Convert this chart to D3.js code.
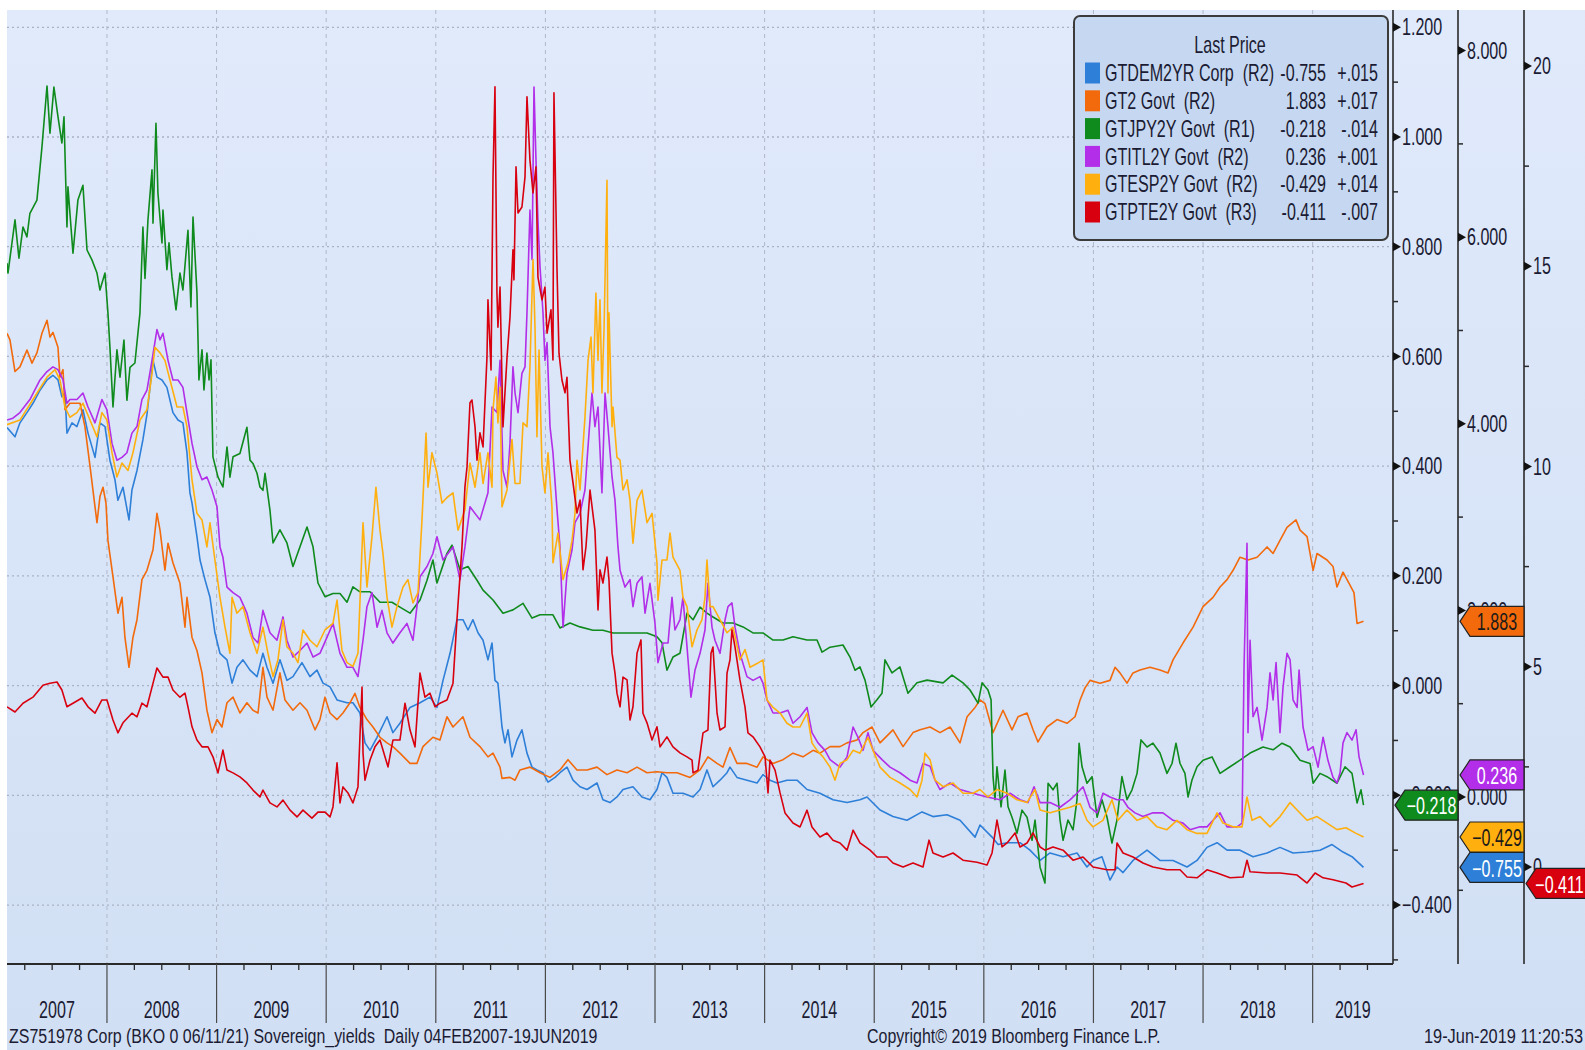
<!DOCTYPE html>
<html><head><meta charset="utf-8">
<script src="https://cdn.jsdelivr.net/npm/d3@7"></script>
<style>
html,body{margin:0;padding:0;background:#fff;}
svg{display:block;}
text{font-family:"Liberation Sans",Arial,sans-serif;}
</style></head>
<body>
<svg id="chart" width="1585" height="1050"></svg>
<script>
// ---------------- DATA (decimal year, value) ----------------
const seriesNames = ["GTDEM2YR Corp","GT2 Govt","GTJPY2Y Govt","GTITL2Y Govt","GTESP2Y Govt","GTPTE2Y Govt"];
const seriesAxes  = ["R2","R2","R1","R2","R2","R3"];
const lastPrices  = ["-0.755","1.883","-0.218","0.236","-0.429","-0.411"];
const changes     = ["+.015","+.017","-.014","+.001","+.014","-.007"];
const yearTicks   = [2007,2008,2009,2010,2011,2012,2013,2014,2015,2016,2017,2018,2019];
const r1Ticks = [-0.4,-0.2,0,0.2,0.4,0.6,0.8,1.0,1.2];
const r2Ticks = [0,2,4,6,8];
const r3Ticks = [0,5,10,15,20];
const footerLeft  = "ZS751978 Corp (BKO 0 06/11/21) Sovereign_yields  Daily 04FEB2007-19JUN2019";
const footerMid   = "Copyright\u00a9 2019 Bloomberg Finance L.P.";
const footerRight = "19-Jun-2019 11:20:53";

const dem = [[2007.088,3.96],[2007.161,3.86],[2007.206,4.01],[2007.270,4.12],[2007.325,4.22],[2007.389,4.36],[2007.453,4.47],[2007.507,4.52],[2007.553,4.47],[2007.589,4.29],[2007.617,4.33],[2007.635,3.90],[2007.681,4.01],[2007.726,3.97],[2007.781,4.15],[2007.827,3.90],[2007.891,3.64],[2007.936,4.01],[2007.982,3.97],[2008.027,3.61],[2008.073,3.40],[2008.100,3.18],[2008.146,3.32],[2008.201,2.97],[2008.228,3.29],[2008.274,3.50],[2008.328,3.83],[2008.365,4.10],[2008.420,4.68],[2008.456,4.50],[2008.502,4.47],[2008.547,4.39],[2008.602,4.12],[2008.648,4.04],[2008.693,4.01],[2008.730,3.69],[2008.757,3.26],[2008.776,3.15],[2008.821,2.79],[2008.849,2.54],[2008.894,2.33],[2008.940,2.14],[2008.985,1.76],[2009.031,1.54],[2009.095,1.47],[2009.141,1.22],[2009.186,1.39],[2009.241,1.47],[2009.305,1.36],[2009.369,1.29],[2009.423,1.54],[2009.460,1.39],[2009.515,1.22],[2009.578,1.47],[2009.642,1.25],[2009.697,1.29],[2009.779,1.44],[2009.852,1.29],[2009.916,1.36],[2009.971,1.22],[2010.035,1.18],[2010.099,1.04],[2010.190,1.01],[2010.244,1.01],[2010.308,0.90],[2010.354,0.58],[2010.400,0.50],[2010.464,0.64],[2010.555,0.86],[2010.609,0.69],[2010.673,0.79],[2010.765,0.96],[2010.856,1.01],[2010.947,1.07],[2011.011,0.96],[2011.066,1.25],[2011.130,1.54],[2011.193,1.90],[2011.248,1.90],[2011.294,1.79],[2011.339,1.90],[2011.385,1.76],[2011.431,1.68],[2011.476,1.47],[2011.513,1.65],[2011.540,1.25],[2011.567,1.22],[2011.604,0.75],[2011.631,0.58],[2011.659,0.72],[2011.695,0.43],[2011.741,0.61],[2011.786,0.72],[2011.832,0.47],[2011.878,0.32],[2011.923,0.29],[2011.978,0.26],[2012.024,0.16],[2012.088,0.21],[2012.133,0.26],[2012.197,0.32],[2012.252,0.18],[2012.316,0.11],[2012.380,0.08],[2012.471,0.15],[2012.525,-0.03],[2012.589,-0.06],[2012.653,0.00],[2012.708,0.08],[2012.799,0.11],[2012.881,0.00],[2012.954,-0.03],[2013.018,0.08],[2013.064,0.26],[2013.109,0.21],[2013.164,0.04],[2013.255,0.04],[2013.347,0.00],[2013.411,0.08],[2013.474,0.29],[2013.529,0.11],[2013.593,0.18],[2013.657,0.26],[2013.684,0.32],[2013.748,0.21],[2013.839,0.18],[2013.931,0.15],[2013.985,0.24],[2014.049,0.18],[2014.113,0.15],[2014.204,0.18],[2014.296,0.18],[2014.387,0.08],[2014.505,0.04],[2014.624,-0.03],[2014.752,-0.06],[2014.870,-0.03],[2014.934,0.00],[2015.053,-0.14],[2015.171,-0.21],[2015.299,-0.25],[2015.436,-0.16],[2015.536,-0.21],[2015.664,-0.19],[2015.783,-0.25],[2015.920,-0.43],[2015.965,-0.30],[2016.075,-0.43],[2016.130,-0.51],[2016.212,-0.49],[2016.330,-0.49],[2016.421,-0.57],[2016.513,-0.68],[2016.604,-0.60],[2016.723,-0.64],[2016.850,-0.60],[2016.941,-0.75],[2016.996,-0.68],[2017.078,-0.64],[2017.151,-0.89],[2017.215,-0.75],[2017.270,-0.81],[2017.361,-0.68],[2017.489,-0.57],[2017.607,-0.68],[2017.726,-0.68],[2017.854,-0.75],[2017.945,-0.68],[2018.036,-0.54],[2018.128,-0.49],[2018.219,-0.57],[2018.337,-0.57],[2018.456,-0.64],[2018.584,-0.60],[2018.702,-0.54],[2018.821,-0.60],[2018.949,-0.59],[2019.067,-0.57],[2019.177,-0.51],[2019.277,-0.59],[2019.359,-0.64],[2019.464,-0.755]];

const ust = [[2007.088,4.97],[2007.115,4.90],[2007.161,4.56],[2007.206,4.61],[2007.270,4.79],[2007.316,4.65],[2007.361,4.76],[2007.407,4.97],[2007.453,5.11],[2007.480,4.93],[2007.507,4.98],[2007.553,4.82],[2007.571,4.50],[2007.599,4.58],[2007.617,4.15],[2007.662,4.22],[2007.754,4.22],[2007.799,3.97],[2007.845,3.55],[2007.891,3.11],[2007.909,2.94],[2007.936,3.22],[2007.964,3.32],[2007.991,3.15],[2008.009,2.75],[2008.055,2.36],[2008.100,1.97],[2008.137,2.14],[2008.164,1.71],[2008.201,1.39],[2008.237,1.71],[2008.274,1.90],[2008.319,2.33],[2008.365,2.43],[2008.420,2.65],[2008.456,3.04],[2008.484,2.86],[2008.529,2.43],[2008.557,2.72],[2008.602,2.51],[2008.666,2.29],[2008.712,1.82],[2008.730,2.14],[2008.776,1.71],[2008.821,1.57],[2008.867,1.33],[2008.912,0.93],[2008.958,0.69],[2009.004,0.83],[2009.049,0.75],[2009.095,1.01],[2009.150,1.07],[2009.213,0.90],[2009.277,1.01],[2009.332,0.93],[2009.378,0.90],[2009.423,1.39],[2009.460,1.07],[2009.515,0.93],[2009.578,1.33],[2009.624,1.04],[2009.697,0.93],[2009.761,1.01],[2009.825,0.93],[2009.898,0.72],[2009.943,0.83],[2009.989,1.07],[2010.035,0.90],[2010.099,0.83],[2010.153,0.90],[2010.217,1.01],[2010.263,1.11],[2010.308,0.96],[2010.372,0.83],[2010.427,0.75],[2010.491,0.64],[2010.555,0.58],[2010.609,0.54],[2010.673,0.47],[2010.765,0.36],[2010.828,0.36],[2010.883,0.54],[2010.974,0.64],[2011.038,0.61],[2011.102,0.86],[2011.157,0.75],[2011.248,0.86],[2011.312,0.64],[2011.403,0.54],[2011.476,0.43],[2011.522,0.47],[2011.586,0.32],[2011.604,0.20],[2011.677,0.21],[2011.723,0.18],[2011.768,0.29],[2011.859,0.32],[2011.951,0.26],[2012.042,0.21],[2012.133,0.29],[2012.206,0.40],[2012.288,0.29],[2012.380,0.29],[2012.471,0.32],[2012.562,0.24],[2012.653,0.29],[2012.745,0.26],[2012.836,0.32],[2012.927,0.26],[2013.018,0.27],[2013.109,0.26],[2013.201,0.26],[2013.319,0.21],[2013.411,0.29],[2013.483,0.43],[2013.566,0.36],[2013.620,0.32],[2013.684,0.53],[2013.748,0.36],[2013.839,0.36],[2013.931,0.32],[2013.985,0.43],[2014.077,0.36],[2014.168,0.40],[2014.259,0.47],[2014.350,0.43],[2014.442,0.50],[2014.505,0.47],[2014.597,0.54],[2014.688,0.54],[2014.752,0.58],[2014.843,0.61],[2014.898,0.69],[2014.980,0.75],[2015.053,0.58],[2015.171,0.72],[2015.263,0.54],[2015.354,0.69],[2015.418,0.72],[2015.509,0.75],[2015.600,0.69],[2015.692,0.75],[2015.783,0.58],[2015.847,0.86],[2015.920,0.96],[2015.965,1.04],[2016.011,1.00],[2016.084,0.69],[2016.175,0.93],[2016.257,0.72],[2016.312,0.86],[2016.394,0.90],[2016.449,0.72],[2016.494,0.59],[2016.576,0.75],[2016.668,0.83],[2016.759,0.79],[2016.832,0.86],[2016.878,1.04],[2016.923,1.17],[2016.969,1.25],[2017.060,1.22],[2017.151,1.25],[2017.197,1.39],[2017.242,1.33],[2017.306,1.22],[2017.361,1.33],[2017.425,1.36],[2017.516,1.39],[2017.607,1.36],[2017.680,1.33],[2017.726,1.47],[2017.817,1.65],[2017.909,1.82],[2018.000,2.04],[2018.091,2.14],[2018.155,2.25],[2018.219,2.33],[2018.274,2.43],[2018.337,2.57],[2018.410,2.54],[2018.493,2.57],[2018.584,2.68],[2018.639,2.61],[2018.702,2.75],[2018.766,2.89],[2018.848,2.97],[2018.885,2.86],[2018.949,2.79],[2019.004,2.43],[2019.040,2.61],[2019.131,2.54],[2019.186,2.47],[2019.222,2.25],[2019.277,2.41],[2019.332,2.29],[2019.377,2.19],[2019.405,1.86],[2019.464,1.883]];

const jpy = [[2007.088,0.770],[2007.097,0.752],[2007.161,0.849],[2007.197,0.779],[2007.234,0.836],[2007.270,0.818],[2007.297,0.861],[2007.361,0.885],[2007.407,0.982],[2007.453,1.093],[2007.480,1.007],[2007.516,1.091],[2007.553,1.037],[2007.589,0.989],[2007.608,1.037],[2007.635,0.836],[2007.644,0.909],[2007.690,0.788],[2007.735,0.885],[2007.781,0.912],[2007.818,0.794],[2007.863,0.776],[2007.909,0.752],[2007.936,0.721],[2007.982,0.752],[2008.009,0.679],[2008.027,0.617],[2008.055,0.508],[2008.091,0.612],[2008.119,0.562],[2008.155,0.630],[2008.182,0.520],[2008.210,0.580],[2008.255,0.588],[2008.301,0.679],[2008.328,0.836],[2008.347,0.742],[2008.374,0.849],[2008.411,0.940],[2008.420,0.843],[2008.447,1.025],[2008.465,0.898],[2008.502,0.807],[2008.511,0.867],[2008.547,0.758],[2008.566,0.807],[2008.593,0.745],[2008.630,0.685],[2008.666,0.752],[2008.693,0.721],[2008.739,0.830],[2008.766,0.690],[2008.785,0.854],[2008.821,0.716],[2008.839,0.557],[2008.867,0.612],[2008.885,0.539],[2008.912,0.606],[2008.931,0.557],[2008.949,0.594],[2008.967,0.417],[2009.013,0.380],[2009.058,0.362],[2009.095,0.435],[2009.122,0.380],[2009.150,0.417],[2009.213,0.423],[2009.277,0.471],[2009.305,0.411],[2009.332,0.405],[2009.369,0.387],[2009.396,0.362],[2009.423,0.356],[2009.442,0.387],[2009.487,0.320],[2009.515,0.260],[2009.578,0.284],[2009.642,0.260],[2009.697,0.217],[2009.761,0.253],[2009.825,0.289],[2009.880,0.253],[2009.925,0.187],[2009.989,0.162],[2010.062,0.168],[2010.126,0.168],[2010.190,0.152],[2010.244,0.180],[2010.308,0.171],[2010.400,0.171],[2010.491,0.152],[2010.600,0.152],[2010.673,0.143],[2010.765,0.132],[2010.856,0.156],[2010.920,0.192],[2010.974,0.229],[2011.011,0.187],[2011.102,0.241],[2011.148,0.256],[2011.221,0.211],[2011.294,0.217],[2011.376,0.192],[2011.431,0.174],[2011.522,0.156],[2011.613,0.132],[2011.704,0.138],[2011.796,0.150],[2011.878,0.123],[2011.951,0.129],[2012.069,0.129],[2012.133,0.105],[2012.224,0.114],[2012.316,0.107],[2012.434,0.101],[2012.525,0.101],[2012.617,0.096],[2012.799,0.096],[2012.927,0.096],[2013.018,0.089],[2013.064,0.078],[2013.109,0.028],[2013.164,0.052],[2013.228,0.059],[2013.292,0.132],[2013.347,0.120],[2013.411,0.143],[2013.474,0.132],[2013.529,0.125],[2013.620,0.114],[2013.712,0.114],[2013.803,0.107],[2013.894,0.096],[2013.985,0.096],[2014.077,0.083],[2014.168,0.083],[2014.259,0.089],[2014.387,0.083],[2014.478,0.083],[2014.524,0.061],[2014.597,0.070],[2014.715,0.074],[2014.779,0.052],[2014.825,0.028],[2014.870,0.034],[2014.916,0.010],[2014.971,-0.039],[2015.025,-0.026],[2015.071,-0.014],[2015.098,0.047],[2015.162,0.023],[2015.235,0.034],[2015.308,-0.014],[2015.390,0.005],[2015.482,0.010],[2015.628,0.005],[2015.710,0.019],[2015.810,0.005],[2015.874,-0.008],[2015.947,-0.032],[2015.984,0.005],[2016.038,-0.008],[2016.066,-0.026],[2016.084,-0.166],[2016.102,-0.208],[2016.120,-0.148],[2016.157,-0.221],[2016.193,-0.154],[2016.221,-0.221],[2016.257,-0.240],[2016.303,-0.269],[2016.348,-0.227],[2016.394,-0.240],[2016.440,-0.282],[2016.467,-0.245],[2016.513,-0.331],[2016.558,-0.360],[2016.586,-0.178],[2016.631,-0.190],[2016.668,-0.178],[2016.695,-0.245],[2016.723,-0.282],[2016.768,-0.245],[2016.814,-0.263],[2016.850,-0.208],[2016.869,-0.105],[2016.896,-0.148],[2016.941,-0.178],[2016.987,-0.166],[2017.033,-0.240],[2017.078,-0.208],[2017.124,-0.240],[2017.169,-0.287],[2017.215,-0.245],[2017.260,-0.166],[2017.306,-0.208],[2017.352,-0.190],[2017.398,-0.160],[2017.434,-0.099],[2017.489,-0.112],[2017.543,-0.105],[2017.607,-0.123],[2017.671,-0.160],[2017.717,-0.142],[2017.753,-0.105],[2017.790,-0.142],[2017.835,-0.160],[2017.863,-0.203],[2017.899,-0.172],[2017.945,-0.148],[2018.000,-0.136],[2018.082,-0.130],[2018.155,-0.160],[2018.246,-0.148],[2018.337,-0.136],[2018.429,-0.123],[2018.547,-0.112],[2018.639,-0.117],[2018.721,-0.105],[2018.794,-0.112],[2018.885,-0.136],[2018.976,-0.142],[2019.004,-0.178],[2019.067,-0.160],[2019.131,-0.166],[2019.222,-0.178],[2019.295,-0.148],[2019.359,-0.160],[2019.405,-0.214],[2019.441,-0.190],[2019.464,-0.218]];

const itl = [[2007.088,4.04],[2007.142,4.06],[2007.206,4.12],[2007.297,4.26],[2007.389,4.47],[2007.453,4.56],[2007.507,4.61],[2007.553,4.58],[2007.599,4.47],[2007.635,4.22],[2007.662,4.26],[2007.726,4.26],[2007.781,4.33],[2007.827,4.18],[2007.891,4.01],[2007.954,4.26],[2008.000,4.15],[2008.046,3.79],[2008.091,3.61],[2008.137,3.64],[2008.182,3.69],[2008.228,3.90],[2008.274,3.97],[2008.319,4.26],[2008.365,4.36],[2008.411,4.68],[2008.456,5.01],[2008.484,4.90],[2008.511,4.97],[2008.557,4.68],[2008.602,4.47],[2008.648,4.47],[2008.693,4.39],[2008.730,4.12],[2008.776,3.79],[2008.821,3.54],[2008.867,3.40],[2008.912,3.43],[2008.958,3.29],[2009.004,3.11],[2009.031,2.68],[2009.058,2.57],[2009.095,2.25],[2009.150,2.19],[2009.213,2.14],[2009.277,1.97],[2009.332,1.71],[2009.378,1.65],[2009.423,2.00],[2009.487,1.76],[2009.551,1.68],[2009.606,1.93],[2009.642,1.68],[2009.697,1.50],[2009.761,1.57],[2009.825,1.65],[2009.880,1.50],[2009.943,1.54],[2010.007,1.71],[2010.062,1.86],[2010.126,1.54],[2010.190,1.39],[2010.244,1.39],[2010.290,1.29],[2010.336,1.68],[2010.372,2.04],[2010.418,2.19],[2010.464,1.82],[2010.509,2.00],[2010.555,1.76],[2010.609,1.65],[2010.673,1.76],[2010.737,1.86],[2010.792,1.68],[2010.828,2.04],[2010.856,2.36],[2010.920,2.47],[2010.974,2.61],[2011.011,2.79],[2011.066,2.54],[2011.157,2.68],[2011.221,2.33],[2011.266,2.68],[2011.312,3.11],[2011.403,2.97],[2011.476,3.26],[2011.513,4.18],[2011.558,4.12],[2011.586,4.68],[2011.613,3.50],[2011.650,3.32],[2011.677,3.79],[2011.704,4.61],[2011.723,4.33],[2011.750,4.12],[2011.786,4.54],[2011.814,4.61],[2011.832,5.19],[2011.859,6.29],[2011.878,5.76],[2011.896,7.61],[2011.914,6.83],[2011.932,6.18],[2011.951,5.68],[2011.978,5.19],[2011.996,4.68],[2012.015,4.87],[2012.042,3.97],[2012.069,3.69],[2012.106,3.08],[2012.133,2.68],[2012.161,1.82],[2012.197,2.40],[2012.243,2.65],[2012.270,2.94],[2012.316,3.04],[2012.361,3.29],[2012.380,3.61],[2012.425,4.33],[2012.452,3.97],[2012.480,4.18],[2012.516,3.26],[2012.544,4.33],[2012.571,3.97],[2012.608,3.43],[2012.635,3.18],[2012.662,2.68],[2012.681,2.43],[2012.726,2.25],[2012.772,2.33],[2012.799,2.04],[2012.836,2.29],[2012.881,2.36],[2012.909,1.97],[2012.954,2.29],[2013.000,1.86],[2013.027,1.44],[2013.073,1.65],[2013.119,1.65],[2013.155,2.14],[2013.182,1.79],[2013.228,1.90],[2013.255,2.14],[2013.292,1.61],[2013.328,1.07],[2013.365,1.36],[2013.411,1.54],[2013.456,1.79],[2013.483,2.29],[2013.520,1.82],[2013.547,1.68],[2013.593,1.54],[2013.639,1.90],[2013.666,2.04],[2013.702,2.08],[2013.730,1.82],[2013.775,1.54],[2013.839,1.29],[2013.894,1.25],[2013.958,1.29],[2013.985,1.22],[2014.022,1.04],[2014.077,0.90],[2014.141,0.90],[2014.213,0.93],[2014.259,0.79],[2014.323,0.86],[2014.387,0.96],[2014.432,0.69],[2014.487,0.58],[2014.551,0.50],[2014.597,0.40],[2014.642,0.36],[2014.688,0.32],[2014.752,0.43],[2014.807,0.75],[2014.852,0.64],[2014.898,0.50],[2014.943,0.69],[2014.989,0.50],[2015.071,0.40],[2015.144,0.32],[2015.235,0.26],[2015.327,0.18],[2015.390,0.15],[2015.445,0.36],[2015.509,0.33],[2015.555,0.18],[2015.600,0.08],[2015.692,0.15],[2015.783,0.08],[2015.901,0.04],[2016.029,0.00],[2016.148,-0.03],[2016.239,0.04],[2016.330,-0.03],[2016.403,-0.06],[2016.458,0.11],[2016.513,-0.06],[2016.604,-0.06],[2016.695,-0.11],[2016.786,-0.03],[2016.850,0.04],[2016.905,0.11],[2016.969,-0.11],[2017.033,-0.17],[2017.087,0.04],[2017.151,0.00],[2017.215,-0.03],[2017.270,-0.03],[2017.315,-0.11],[2017.379,-0.17],[2017.452,-0.21],[2017.543,-0.17],[2017.634,-0.17],[2017.726,-0.25],[2017.817,-0.28],[2017.881,-0.35],[2017.972,-0.32],[2018.036,-0.32],[2018.091,-0.25],[2018.155,-0.17],[2018.219,-0.32],[2018.310,-0.32],[2018.356,-0.28],[2018.374,1.39],[2018.401,2.72],[2018.410,0.69],[2018.429,1.68],[2018.456,0.86],[2018.493,0.96],[2018.538,0.61],[2018.584,0.96],[2018.611,1.33],[2018.639,1.04],[2018.666,1.44],[2018.702,0.69],[2018.730,1.18],[2018.766,1.54],[2018.794,1.47],[2018.821,1.04],[2018.858,0.96],[2018.876,1.36],[2018.912,0.75],[2018.958,0.50],[2019.004,0.54],[2019.049,0.32],[2019.095,0.64],[2019.140,0.39],[2019.186,0.21],[2019.222,0.15],[2019.250,0.26],[2019.277,0.58],[2019.313,0.69],[2019.359,0.61],[2019.396,0.72],[2019.423,0.43],[2019.464,0.236]];

const esp = [[2007.088,3.99],[2007.206,4.04],[2007.325,4.26],[2007.453,4.50],[2007.526,4.58],[2007.571,4.47],[2007.617,4.18],[2007.662,4.07],[2007.726,4.12],[2007.781,4.22],[2007.845,4.04],[2007.909,3.86],[2007.954,4.12],[2008.000,4.04],[2008.046,3.69],[2008.091,3.43],[2008.137,3.58],[2008.192,3.50],[2008.237,3.69],[2008.301,4.04],[2008.365,4.15],[2008.411,4.54],[2008.438,4.82],[2008.484,4.76],[2008.529,4.68],[2008.575,4.47],[2008.639,4.18],[2008.693,4.18],[2008.730,3.97],[2008.776,3.40],[2008.821,3.04],[2008.867,2.97],[2008.912,2.68],[2008.940,2.94],[2008.985,2.54],[2009.031,2.14],[2009.077,1.82],[2009.122,1.54],[2009.141,2.14],[2009.186,1.97],[2009.241,2.04],[2009.305,1.76],[2009.369,1.54],[2009.423,1.82],[2009.469,1.54],[2009.515,1.29],[2009.560,1.47],[2009.606,1.90],[2009.642,1.61],[2009.697,1.54],[2009.743,1.44],[2009.788,1.79],[2009.852,1.68],[2009.916,1.61],[2009.989,1.79],[2010.062,1.86],[2010.099,2.11],[2010.144,1.57],[2010.190,1.44],[2010.244,1.40],[2010.290,1.54],[2010.336,2.94],[2010.372,2.25],[2010.418,2.79],[2010.454,3.32],[2010.491,2.86],[2010.518,2.61],[2010.555,2.14],[2010.600,1.82],[2010.646,2.04],[2010.701,2.25],[2010.746,2.33],[2010.792,2.08],[2010.838,2.19],[2010.874,2.97],[2010.911,3.90],[2010.929,3.32],[2010.965,3.69],[2011.011,3.47],[2011.057,3.15],[2011.102,3.21],[2011.157,3.26],[2011.203,2.86],[2011.266,3.08],[2011.312,3.58],[2011.358,3.32],[2011.403,3.69],[2011.431,3.36],[2011.476,3.69],[2011.513,3.32],[2011.522,4.15],[2011.549,4.50],[2011.567,4.01],[2011.586,4.39],[2011.604,3.11],[2011.650,3.29],[2011.695,3.83],[2011.723,3.36],[2011.768,3.36],[2011.796,4.01],[2011.832,3.97],[2011.859,4.61],[2011.887,5.76],[2011.905,5.04],[2011.923,3.86],[2011.942,4.79],[2011.969,3.54],[2011.996,3.26],[2012.024,3.69],[2012.060,3.11],[2012.069,2.51],[2012.115,2.83],[2012.161,2.33],[2012.206,2.51],[2012.243,2.75],[2012.270,3.04],[2012.288,3.61],[2012.316,3.29],[2012.361,4.07],[2012.389,4.68],[2012.416,4.93],[2012.434,4.33],[2012.461,5.40],[2012.480,4.68],[2012.498,5.33],[2012.516,4.33],[2012.535,5.01],[2012.562,6.61],[2012.571,4.33],[2012.580,5.19],[2012.608,3.97],[2012.617,4.18],[2012.653,3.64],[2012.681,3.61],[2012.708,3.29],[2012.745,3.40],[2012.772,3.18],[2012.799,2.72],[2012.836,3.18],[2012.881,3.29],[2012.927,2.94],[2012.973,3.04],[2013.018,2.51],[2013.027,2.11],[2013.064,2.54],[2013.109,2.54],[2013.137,2.83],[2013.164,2.57],[2013.228,2.43],[2013.255,2.14],[2013.292,2.04],[2013.338,1.61],[2013.383,1.79],[2013.429,1.90],[2013.456,2.14],[2013.474,2.54],[2013.502,2.04],[2013.529,2.04],[2013.593,1.90],[2013.657,1.76],[2013.712,1.82],[2013.775,1.47],[2013.821,1.58],[2013.867,1.39],[2013.931,1.43],[2013.985,1.47],[2014.022,1.04],[2014.077,0.96],[2014.141,0.90],[2014.204,0.79],[2014.259,0.75],[2014.323,0.75],[2014.387,0.90],[2014.432,0.58],[2014.478,0.50],[2014.533,0.43],[2014.597,0.32],[2014.642,0.18],[2014.688,0.36],[2014.752,0.40],[2014.807,0.50],[2014.870,0.47],[2014.943,0.64],[2014.989,0.50],[2015.053,0.32],[2015.144,0.21],[2015.235,0.15],[2015.327,0.08],[2015.390,0.00],[2015.436,0.18],[2015.463,0.47],[2015.509,0.40],[2015.555,0.18],[2015.628,0.11],[2015.719,0.15],[2015.810,0.04],[2015.901,0.04],[2015.965,0.08],[2016.038,0.00],[2016.120,0.08],[2016.212,0.04],[2016.303,-0.03],[2016.394,-0.06],[2016.467,0.08],[2016.513,-0.14],[2016.604,-0.17],[2016.695,-0.14],[2016.786,-0.11],[2016.878,-0.07],[2016.941,-0.25],[2016.996,-0.32],[2017.087,-0.25],[2017.169,-0.03],[2017.224,-0.25],[2017.306,-0.14],[2017.398,-0.25],[2017.489,-0.21],[2017.580,-0.32],[2017.671,-0.35],[2017.762,-0.25],[2017.854,-0.35],[2017.945,-0.39],[2018.036,-0.39],[2018.128,-0.17],[2018.182,-0.28],[2018.274,-0.32],[2018.356,-0.32],[2018.401,0.00],[2018.447,-0.25],[2018.520,-0.21],[2018.611,-0.32],[2018.702,-0.21],[2018.794,-0.06],[2018.858,-0.14],[2018.949,-0.25],[2019.040,-0.21],[2019.131,-0.28],[2019.222,-0.35],[2019.304,-0.33],[2019.396,-0.39],[2019.464,-0.429]];

const pte = [[2007.088,4.00],[2007.161,3.87],[2007.234,4.09],[2007.325,4.24],[2007.416,4.54],[2007.480,4.59],[2007.544,4.62],[2007.589,4.42],[2007.635,4.00],[2007.690,4.09],[2007.772,4.22],[2007.827,4.00],[2007.891,3.84],[2007.954,4.17],[2008.000,4.17],[2008.055,3.67],[2008.100,3.35],[2008.146,3.60],[2008.228,3.84],[2008.274,3.75],[2008.319,4.09],[2008.365,4.00],[2008.411,4.49],[2008.456,4.97],[2008.511,4.74],[2008.557,4.74],[2008.602,4.42],[2008.666,4.24],[2008.712,4.34],[2008.739,4.00],[2008.776,3.50],[2008.821,3.17],[2008.867,3.00],[2008.922,3.00],[2008.967,2.75],[2009.013,2.35],[2009.058,2.92],[2009.095,2.42],[2009.150,2.35],[2009.213,2.25],[2009.277,2.10],[2009.332,1.92],[2009.396,1.75],[2009.423,1.92],[2009.487,1.60],[2009.551,1.50],[2009.606,1.67],[2009.670,1.42],[2009.734,1.25],[2009.788,1.42],[2009.870,1.22],[2009.925,1.37],[2009.989,1.37],[2010.035,1.25],[2010.062,1.50],[2010.099,2.60],[2010.126,1.60],[2010.153,2.00],[2010.199,1.85],[2010.244,1.60],[2010.290,2.00],[2010.308,3.25],[2010.327,4.49],[2010.336,2.85],[2010.354,2.17],[2010.400,2.67],[2010.445,3.00],[2010.491,3.17],[2010.564,2.50],[2010.609,3.17],[2010.673,3.17],[2010.719,4.09],[2010.765,3.42],[2010.810,3.00],[2010.856,4.84],[2010.901,4.24],[2010.947,4.34],[2010.993,4.00],[2011.038,4.09],[2011.102,4.17],[2011.157,4.59],[2011.193,6.17],[2011.239,7.99],[2011.266,9.49],[2011.285,9.99],[2011.312,11.59],[2011.330,11.66],[2011.358,10.99],[2011.376,10.16],[2011.403,10.84],[2011.431,10.49],[2011.467,12.73],[2011.476,14.16],[2011.504,12.41],[2011.522,17.23],[2011.540,19.48],[2011.558,14.33],[2011.567,13.48],[2011.586,14.48],[2011.613,10.99],[2011.650,12.73],[2011.677,13.73],[2011.704,15.41],[2011.713,14.66],[2011.732,17.48],[2011.750,16.33],[2011.786,16.48],[2011.814,17.23],[2011.832,19.23],[2011.859,17.65],[2011.887,16.83],[2011.914,17.48],[2011.932,14.73],[2011.969,14.16],[2011.996,14.48],[2012.015,13.33],[2012.051,13.91],[2012.069,12.66],[2012.078,19.33],[2012.106,14.91],[2012.124,12.83],[2012.151,12.16],[2012.179,11.84],[2012.197,12.23],[2012.224,10.16],[2012.252,9.59],[2012.288,8.84],[2012.316,9.16],[2012.343,7.42],[2012.370,7.99],[2012.407,9.41],[2012.452,8.41],[2012.480,6.42],[2012.498,7.42],[2012.525,7.09],[2012.562,7.74],[2012.580,7.17],[2012.608,5.34],[2012.635,4.84],[2012.653,4.34],[2012.681,4.00],[2012.708,4.74],[2012.745,4.67],[2012.772,3.67],[2012.799,4.00],[2012.836,5.34],[2012.872,5.67],[2012.890,3.84],[2012.927,3.60],[2012.973,3.17],[2013.018,3.50],[2013.046,3.00],[2013.109,3.25],[2013.164,3.00],[2013.228,2.85],[2013.292,2.75],[2013.338,2.67],[2013.347,2.35],[2013.392,2.42],[2013.438,3.35],[2013.483,3.42],[2013.511,5.34],[2013.529,5.49],[2013.566,3.84],[2013.593,3.42],[2013.639,3.50],[2013.657,4.84],[2013.684,5.17],[2013.702,5.92],[2013.730,5.49],[2013.775,4.67],[2013.821,4.00],[2013.848,3.35],[2013.894,3.25],[2013.958,3.00],[2014.004,2.75],[2014.031,1.85],[2014.049,2.67],[2014.095,2.42],[2014.141,1.85],[2014.186,1.35],[2014.259,1.10],[2014.323,1.00],[2014.387,1.42],[2014.432,1.00],[2014.505,0.75],[2014.569,0.85],[2014.624,0.67],[2014.688,0.60],[2014.752,0.42],[2014.807,0.92],[2014.870,0.60],[2014.962,0.42],[2015.025,0.25],[2015.117,0.25],[2015.171,0.10],[2015.263,0.00],[2015.354,0.10],[2015.445,0.00],[2015.500,0.67],[2015.536,0.35],[2015.628,0.25],[2015.719,0.35],[2015.810,0.17],[2015.938,0.12],[2016.029,0.05],[2016.075,0.35],[2016.120,1.17],[2016.166,0.50],[2016.212,0.60],[2016.285,0.85],[2016.330,0.50],[2016.394,0.60],[2016.449,0.85],[2016.513,0.50],[2016.558,0.42],[2016.631,0.50],[2016.723,0.42],[2016.814,0.17],[2016.905,0.25],[2016.996,0.00],[2017.124,-0.07],[2017.197,-0.07],[2017.215,0.60],[2017.270,0.35],[2017.361,0.25],[2017.452,0.10],[2017.543,0.00],[2017.671,-0.07],[2017.790,-0.07],[2017.854,-0.25],[2017.945,-0.27],[2018.036,-0.07],[2018.128,-0.15],[2018.246,-0.27],[2018.365,-0.25],[2018.401,0.17],[2018.429,-0.12],[2018.584,-0.15],[2018.702,-0.15],[2018.858,-0.20],[2018.949,-0.40],[2019.022,-0.15],[2019.095,-0.27],[2019.186,-0.32],[2019.304,-0.40],[2019.359,-0.50],[2019.464,-0.411]];

const seriesData = [dem, ust, jpy, itl, esp, pte];

// ---------------- STYLE ----------------
const colors = ["#2e7fd8","#f26a0c","#0f8a1c","#b22ee8","#ffb00f","#d8000f"];
const tagText = ["#ffffff","#1a1a1a","#ffffff","#ffffff","#1a1a1a","#ffffff"];
const FONT_SCALE = 0.7;
const INK = "#1b1b33";

// ---------------- LAYOUT ----------------
const W = 1585, H = 1050;
const L = 7, R = 1393, T = 10, B = 964;
const axR2x = 1458, axR3x = 1524;

const svg = d3.select("#chart");
const defs = svg.append("defs");
const grad = defs.append("linearGradient").attr("id","bg").attr("x1",0).attr("y1",0).attr("x2",0).attr("y2",1);
grad.append("stop").attr("offset","0%").attr("stop-color","#e0eafb");
grad.append("stop").attr("offset","100%").attr("stop-color","#d1dff4");
defs.append("clipPath").attr("id","plotclip").append("rect").attr("x",L).attr("y",T).attr("width",R-L).attr("height",B-T);

svg.append("rect").attr("x",0).attr("y",0).attr("width",W).attr("height",H).attr("fill","#ffffff");
svg.append("rect").attr("x",L).attr("y",T).attr("width",W-L).attr("height",H-T).attr("fill","url(#bg)");

const x = d3.scaleLinear().domain([2007.088, 2019.733]).range([L, R]);
const yR1 = d3.scaleLinear().domain([-0.5075, 1.2315]).range([B, T]);
const yR2 = d3.scaleLinear().domain([-1.790, 8.435]).range([B, T]);
const yR3 = d3.scaleLinear().domain([-2.422, 21.398]).range([B, T]);
const yScales = {R1: yR1, R2: yR2, R3: yR3};

function txt(g, tx, ty, s, anchor, size, fill, sx, baseline) {
  return g.append("text")
    .attr("transform", `translate(${tx},${ty}) scale(${sx || FONT_SCALE},1)`)
    .attr("text-anchor", anchor)
    .attr("dominant-baseline", baseline || "central")
    .attr("font-size", size)
    .attr("fill", fill)
    .attr("xml:space", "preserve")
    .style("white-space", "pre")
    .text(s);
}

// ---------------- GRID ----------------
const grid = svg.append("g");
r1Ticks.forEach(v => {
  grid.append("line").attr("x1",L).attr("x2",R).attr("y1",yR1(v)).attr("y2",yR1(v))
    .attr("stroke","#a9b2c4").attr("stroke-width",1.3).attr("stroke-dasharray","2,3");
});
yearTicks.filter(yv => x(yv) > L + 1).forEach(yv => {
  grid.append("line").attr("x1",x(yv)).attr("x2",x(yv)).attr("y1",T).attr("y2",B)
    .attr("stroke","#b0b8c8").attr("stroke-width",1).attr("stroke-dasharray","4,4");
});

// ---------------- SERIES ----------------
const plot = svg.append("g").attr("clip-path","url(#plotclip)");
seriesData.forEach((data, i) => {
  const ys = yScales[seriesAxes[i]];
  const line = d3.line().x(d => x(d[0])).y(d => ys(d[1]));
  plot.append("path").datum(data).attr("d", line)
    .attr("fill","none").attr("stroke",colors[i]).attr("stroke-width",1.6)
    .attr("stroke-linejoin","round");
});

// ---------------- X AXIS ----------------
const xa = svg.append("g");
xa.append("line").attr("x1",L).attr("x2",R).attr("y1",B).attr("y2",B).attr("stroke","#2a2a2a").attr("stroke-width",2);
const quarters = d3.range(2007.25, 2019.8, 0.25).filter(q => Math.abs(q - Math.round(q)) > 0.01 && x(q) > L && x(q) < R);
quarters.forEach(q => {
  xa.append("line").attr("x1",x(q)).attr("x2",x(q)).attr("y1",B).attr("y2",B+6).attr("stroke","#2a2a2a").attr("stroke-width",1.3);
});
yearTicks.filter(yv => x(yv) > L + 1).forEach(yv => {
  xa.append("line").attr("x1",x(yv)).attr("x2",x(yv)).attr("y1",B).attr("y2",B+59).attr("stroke","#4a4a4a").attr("stroke-width",1.2);
});
yearTicks.forEach(yv => {
  const a = Math.max(L, x(yv)), b = Math.min(R, x(yv + 1));
  txt(xa, (a + b) / 2, 1010, String(yv), "middle", 23, INK);
});

// ---------------- RIGHT AXES ----------------
function rightAxis(ax, scale, ticks, minor, fmt) {
  const g = svg.append("g");
  g.append("line").attr("x1",ax).attr("x2",ax).attr("y1",T).attr("y2",B).attr("stroke","#2a2a2a").attr("stroke-width",1.6);
  minor.forEach(v => {
    g.append("line").attr("x1",ax).attr("x2",ax+5).attr("y1",scale(v)).attr("y2",scale(v)).attr("stroke","#2a2a2a").attr("stroke-width",1.5);
  });
  ticks.forEach(v => {
    const yy = scale(v);
    g.append("path").attr("d",`M${ax},${yy-4.5}L${ax+8},${yy}L${ax},${yy+4.5}Z`).attr("fill","#111");
    txt(g, ax + 9, yy, fmt(v), "start", 23, INK);
  });
}
rightAxis(R, yR1, r1Ticks, d3.range(-0.5, 1.2, 0.2), d3.format(".3f"));
rightAxis(axR2x, yR2, r2Ticks, [-1,1,3,5,7], d3.format(".3f"));
rightAxis(axR3x, yR3, r3Ticks, [2.5,7.5,12.5,17.5], d3.format("d"));

// ---------------- LAST VALUE TAGS ----------------
const tagX = {R1: [R + 2, axR2x], R2: [axR2x + 2, axR3x], R3: [axR3x + 2, W + 4]};
const tagOrder = [0,4,3,1,2,5];
tagOrder.forEach(i => {
  const data = seriesData[i];
  const last = data[data.length - 1][1];
  const ax = seriesAxes[i];
  const yy = yScales[ax](last);
  const [x0, x1] = tagX[ax];
  const h = 15;
  const g = svg.append("g");
  g.append("path").attr("d",`M${x0},${yy}L${x0+10},${yy-h}L${x1},${yy-h}L${x1},${yy+h}L${x0+10},${yy+h}Z`)
    .attr("fill",colors[i]).attr("stroke","#222").attr("stroke-width",1.2);
  txt(g, (x0 + 10 + Math.min(x1, W)) / 2 + (ax === "R3" ? -1 : 0), yy + 1, d3.format(".3f")(last), "middle", 23, tagText[i]);
});

// ---------------- LEGEND ----------------
const lg = svg.append("g");
lg.append("rect").attr("x",1074).attr("y",16).attr("width",314).attr("height",224).attr("rx",6).attr("ry",6)
  .attr("fill","#c6d8f1").attr("stroke","#3b3b3b").attr("stroke-width",2);
txt(lg, 1230, 45, "Last Price", "middle", 23, INK);
seriesNames.forEach((nm, i) => {
  const yy = 73 + i * 27.8;
  lg.append("rect").attr("x",1085).attr("y",yy-10.5).attr("width",15).attr("height",21).attr("fill",colors[i]);
  txt(lg, 1105, yy, `${nm}  (${seriesAxes[i]})`, "start", 23, INK);
  txt(lg, 1326, yy, lastPrices[i], "end", 23, INK);
  txt(lg, 1378, yy, changes[i], "end", 23, INK);
});

// ---------------- FOOTER ----------------
const ft = svg.append("g");
txt(ft, 9, 1043, footerLeft, "start", 21, INK, 0.76, "alphabetic");
txt(ft, 867, 1043, footerMid, "start", 21, INK, 0.76, "alphabetic");
txt(ft, 1583, 1043, footerRight, "end", 21, INK, 0.78, "alphabetic");
</script>
</body></html>
